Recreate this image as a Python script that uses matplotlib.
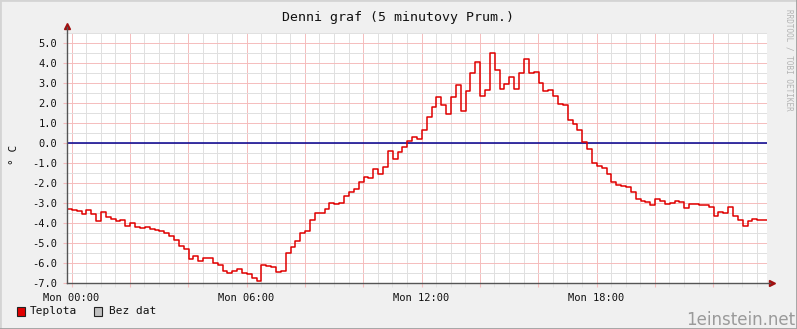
import numpy as np
import matplotlib.pyplot as plt
from matplotlib.patches import Rectangle
from matplotlib.lines import Line2D

# 10-minute readings, first one starts ~9 min before midnight
start_hour = -0.155
step_hours = 10 / 60
temp = [
    -3.3, -3.35, -3.4, -3.55, -3.35, -3.55, -3.9, -3.45, -3.7, -3.8,
    -3.9, -3.85, -4.15, -4.0, -4.2, -4.25, -4.2, -4.3, -4.35, -4.4,
    -4.5, -4.65, -4.85, -5.15, -5.3, -5.8, -5.65, -5.9, -5.75, -5.75,
    -6.0, -6.1, -6.4, -6.5, -6.4, -6.3, -6.5, -6.55, -6.75, -6.9,
    -6.1, -6.15, -6.2, -6.45, -6.4, -5.5, -5.2, -4.9, -4.5, -4.4,
    -3.85, -3.5, -3.52, -3.3, -3.0, -3.05, -3.0, -2.65, -2.45, -2.3,
    -1.95, -1.7, -1.75, -1.3, -1.55, -1.2, -0.4, -0.82, -0.45, -0.2,
    0.1, 0.3, 0.2, 0.65, 1.3, 1.8, 2.3, 1.9, 1.45, 2.28,
    2.9, 1.6, 2.6, 3.5, 4.05, 2.35, 2.65, 4.5, 3.65, 2.7,
    2.95, 3.3, 2.7, 3.5, 4.2, 3.5, 3.55, 3.0, 2.6, 2.65,
    2.35, 1.95, 1.9, 1.15, 0.95, 0.65, 0.05, -0.3, -1.0, -1.15,
    -1.25, -1.55, -1.95, -2.1, -2.15, -2.2, -2.45, -2.8, -2.9, -2.95,
    -3.1, -2.8, -2.9, -3.05, -3.0, -2.9, -2.95, -3.25, -3.05, -3.05,
    -3.1, -3.1, -3.2, -3.65, -3.45, -3.5, -3.2, -3.65, -3.85, -4.15,
    -3.9, -3.8, -3.85, -3.85,
]
x_ticks = [0, 6, 12, 18]
x_labels = ["Mon 00:00", "Mon 06:00", "Mon 12:00", "Mon 18:00"]
title = "Denni graf (5 minutovy Prum.)"

W, H = 797, 329
mono = "DejaVu Sans Mono"

fig = plt.figure(figsize=(W / 100, H / 100), dpi=100, facecolor="#f0f0f0")
ax = fig.add_axes([67 / W, (H - 283) / H, 700 / W, 250 / H])
ax.set_facecolor("white")

t = start_hour + np.arange(len(temp) + 1) * step_hours
vals = temp + [temp[-1]]
ax.step(t, vals, where="post", color="#e00000", lw=1.1, zorder=3)
ax.axhline(0, color="#000090", lw=1.1, zorder=2)

ax.set_xlim(start_hour, start_hour + 24)
ax.set_ylim(-7.0, 5.5)

# grid: major every 2h / 1.0, minor every 30 min / 0.5
ax.set_xticks(np.arange(0, 24, 2))
ax.set_xticklabels([x_labels[x_ticks.index(h)] if h in x_ticks else "" for h in range(0, 24, 2)])
ax.set_xticks(np.arange(0, 24, 0.5), minor=True)
yt = np.arange(-7, 5.01, 1.0)
ax.set_yticks(yt)
ax.set_yticklabels(["%.1f" % v for v in yt])
ax.set_yticks(np.arange(-7, 5.6, 0.5), minor=True)
ax.grid(which="minor", color="#e0e0e0", lw=0.7)
ax.grid(which="major", color="#f5bcbc", lw=0.7)
ax.set_axisbelow(True)

ax.tick_params(which="major", direction="out", length=3, color="#f5bcbc",
               labelsize=7.5, labelcolor="#111111", pad=4)
ax.tick_params(which="minor", direction="out", length=3, color="#e0e0e0")
for lab in ax.get_xticklabels() + ax.get_yticklabels():
    lab.set_family(mono)

for s in ax.spines.values():
    s.set_visible(False)

# axis lines with little arrow heads
ax.add_line(Line2D([0, 0], [0, 1.025], transform=ax.transAxes, color="#555555",
                   lw=1, clip_on=False, zorder=4))
ax.add_line(Line2D([0, 1.005], [0, 0], transform=ax.transAxes, color="#555555",
                   lw=1, clip_on=False, zorder=4))
ax.plot([0], [1.03], marker="^", ms=4, color="#a01010", transform=ax.transAxes, clip_on=False)
ax.plot([1.007], [0], marker=">", ms=4, color="#a01010", transform=ax.transAxes, clip_on=False)

fig.text(0.5, 1 - 17 / H, title, ha="center", va="center", family=mono, fontsize=9.5, color="#111111")
fig.text(14 / W, 1 - 155 / H, "° C", rotation=90, ha="center", va="center", family=mono,
         fontsize=8, color="#111111")

# legend
fig.add_artist(Rectangle((17 / W, 13 / H), 8 / W, 9 / H, transform=fig.transFigure,
                         facecolor="#e00000", edgecolor="#222222", lw=0.8))
fig.text(30 / W, 1 - 311 / H, "Teplota", family=mono, fontsize=8, va="center", color="#111111")
fig.add_artist(Rectangle((94 / W, 13 / H), 8 / W, 9 / H, transform=fig.transFigure,
                         facecolor="#c0c0c0", edgecolor="#222222", lw=0.8))
fig.text(109 / W, 1 - 311 / H, "Bez dat", family=mono, fontsize=8, va="center", color="#111111")

fig.text(789 / W, 1 - 60 / H, "RRDTOOL / TOBI OETIKER", rotation=270, ha="center", va="center",
         family=mono, fontsize=5.5, color="#b4b4b4")
fig.text(795 / W, 1 - 320 / H, "1einstein.net", ha="right", va="center", fontsize=12, color="#9a9a9a")

# frame around the image
fig.add_artist(Line2D([0, 1], [1, 1], transform=fig.transFigure, color="#d4d4d4", lw=2))
fig.add_artist(Line2D([0, 0], [0, 1], transform=fig.transFigure, color="#d4d4d4", lw=2))
fig.add_artist(Line2D([1, 1], [0, 1], transform=fig.transFigure, color="#a0a0a0", lw=2))
fig.add_artist(Line2D([0, 1], [0, 0], transform=fig.transFigure, color="#a0a0a0", lw=2))

fig.savefig("out.png", dpi=100, facecolor=fig.get_facecolor())
